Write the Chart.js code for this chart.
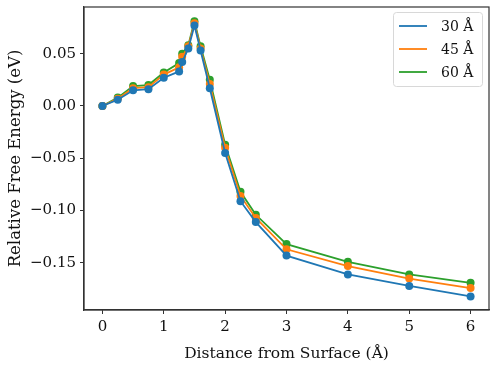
<!DOCTYPE html>
<html>
<head>
<meta charset="utf-8">
<script src="https://cdn.jsdelivr.net/npm/chart.js@4"></script>
<style>
  html, body { margin: 0; padding: 0; background: #fff; }
  #wrap { width: 498px; height: 367px; }
</style>
</head>
<body>
<div id="wrap"><canvas id="chart"></canvas></div>
<script>
// distances (Å) and relative free energies (eV)
var distances = [0, 0.25, 0.5, 0.75, 1.0, 1.25, 1.3, 1.4, 1.5, 1.6, 1.75, 2.0, 2.25, 2.5, 3, 4, 5, 6];
var energy30 = [0, 0.006, 0.015, 0.016, 0.027, 0.033, 0.042, 0.055, 0.077, 0.053, 0.017, -0.045, -0.091, -0.111, -0.143, -0.161, -0.172, -0.182];
var energy45 = [0, 0.007, 0.017, 0.018, 0.030, 0.037, 0.047, 0.057, 0.079, 0.055, 0.021, -0.040, -0.086, -0.107, -0.137, -0.153, -0.165, -0.174];
var energy60 = [0, 0.008, 0.019, 0.020, 0.032, 0.041, 0.050, 0.058, 0.081, 0.057, 0.025, -0.037, -0.082, -0.104, -0.132, -0.149, -0.161, -0.169];
var seriesLabels = ["30 Å", "45 Å", "60 Å"];
var xTicks = [0, 1, 2, 3, 4, 5, 6];
var yTicks = [-0.15, -0.10, -0.05, 0.00, 0.05];

var FONT = "'DejaVu Serif', serif";
var colors = ["#1f77b4", "#ff7f0e", "#2ca02c"];

function makeSet(label, values, color) {
  return {
    label: label,
    data: distances.map((d, i) => ({ x: d, y: values[i] })),
    borderColor: color,
    backgroundColor: color,
    borderWidth: 1.8,
    pointRadius: 4,
    pointBorderWidth: 0,
    pointHoverRadius: 4,
    tension: 0,
  };
}

// box round the plot area plus matplotlib style legend in upper right
const frameAndLegend = {
  id: "frameAndLegend",
  afterDraw(chart) {
    const ctx = chart.ctx;
    const area = chart.chartArea;
    ctx.save();
    ctx.strokeStyle = "#333";
    ctx.lineWidth = 1.2;
    ctx.strokeRect(area.left, area.top, area.right - area.left, area.bottom - area.top);

    const w = 89, h = 74;
    const x0 = area.right - w - 7, y0 = area.top + 5;
    ctx.fillStyle = "rgba(255,255,255,0.8)";
    ctx.strokeStyle = "#d8d8d8";
    ctx.lineWidth = 1;
    ctx.beginPath();
    ctx.roundRect(x0 + 0.5, y0 + 0.5, w, h, 3);
    ctx.fill();
    ctx.stroke();
    ctx.font = "14px " + FONT;
    ctx.textBaseline = "middle";
    chart.data.datasets.forEach((ds, i) => {
      const y = y0 + 14 + i * 23;
      ctx.strokeStyle = ds.borderColor;
      ctx.lineWidth = 1.8;
      ctx.beginPath();
      ctx.moveTo(x0 + 6, y);
      ctx.lineTo(x0 + 34, y);
      ctx.stroke();
      ctx.fillStyle = "#111";
      ctx.fillText(ds.label, x0 + 48, y + 1);
    });
    ctx.restore();
  },
};

const ctx = document.getElementById("chart").getContext("2d");
const chart = new Chart(ctx, {
  type: "line",
  data: {
    datasets: [
      makeSet(seriesLabels[0], energy30, colors[0]),
      makeSet(seriesLabels[1], energy45, colors[1]),
      makeSet(seriesLabels[2], energy60, colors[2]),
    ],
  },
  options: {
    responsive: true,
    maintainAspectRatio: false,
    animation: false,
    layout: { padding: { top: 7, right: 9, left: 2, bottom: 0 } },
    plugins: { legend: { display: false }, tooltip: { enabled: false } },
    scales: {
      x: {
        type: "linear",
        min: -0.3,
        max: 6.3,
        afterBuildTicks: (s) => { s.ticks = xTicks.map((v) => ({ value: v })); },
        afterFit: (s) => { s.height = 57; s.paddingLeft = 0; s.paddingRight = 0; },
        grid: { display: true, drawOnChartArea: false, drawTicks: true, tickLength: 4, tickColor: "#333", tickWidth: 1 },
        border: { color: "#333", width: 1.2 },
        ticks: { color: "#111", padding: 4, font: { family: FONT, size: 15 }, callback: (v) => String(v) },
        title: { display: true, text: "Distance from Surface (Å)", color: "#111", font: { family: FONT, size: 15.5 }, padding: { top: 2 } },
      },
      y: {
        type: "linear",
        min: -0.195,
        max: 0.0946,
        afterBuildTicks: (s) => { s.ticks = yTicks.map((v) => ({ value: v })); },
        afterFit: (s) => { s.width = 82; s.paddingTop = 0; s.paddingBottom = 0; },
        grid: { display: true, drawOnChartArea: false, drawTicks: true, tickLength: 4, tickColor: "#333", tickWidth: 1 },
        border: { color: "#333", width: 1.2 },
        ticks: {
          color: "#111",
          padding: 4,
          font: { family: FONT, size: 15 },
          callback: (v) => (v < 0 ? "\u2212" + Math.abs(v).toFixed(2) : v.toFixed(2)),
        },
        title: { display: true, text: "Relative Free Energy (eV)", color: "#111", font: { family: FONT, size: 16.5 }, padding: { bottom: 4 } },
      },
    },
  },
  plugins: [frameAndLegend],
});
</script>
</body>
</html>
